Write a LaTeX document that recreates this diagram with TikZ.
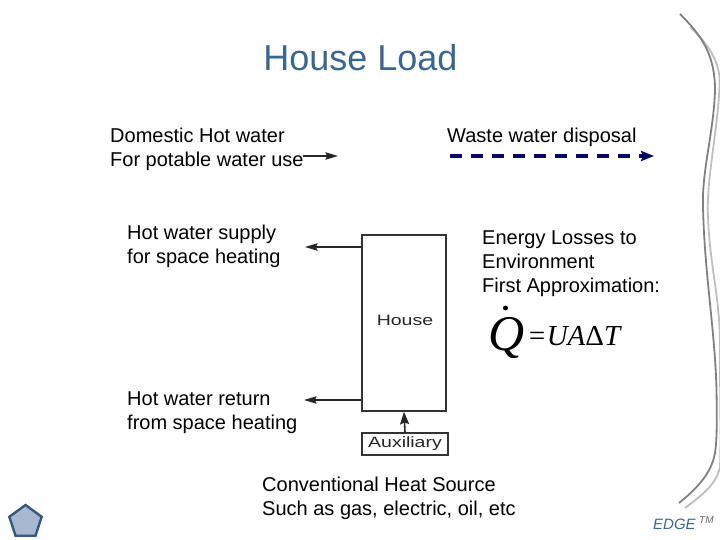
\documentclass[tikz,border=0pt]{standalone}
\usepackage{amsmath,amssymb}
\usepackage{fontspec}
\setmainfont{Liberation Sans}
\newfontfamily\serifface{Liberation Serif}
\usetikzlibrary{positioning,arrows.meta,shapes.geometric}
\definecolor{titleblue}{HTML}{3A6790}
\definecolor{wastenavy}{HTML}{050A66}
\definecolor{penta}{HTML}{A5B8CF}
\definecolor{pentaedge}{HTML}{33597F}
\definecolor{swooshdark}{HTML}{808080}
\definecolor{swooshlight}{HTML}{BEBEBE}
\newcommand{\wideword}[1]{\scalebox{1.3}[1]{#1}}
\begin{document}
\begin{tikzpicture}[x=1pt, y=-1pt,
    txt/.style={anchor=north west, align=left, inner sep=0pt, font=\fontsize{20}{24}\selectfont, text=black},
    box/.style={draw=black!80, line width=1.5pt, fill=white, inner sep=0pt},
    small/.style={font=\fontsize{15}{17}\selectfont, text=black!85, inner sep=0pt},
    fl/.style={-{Stealth[length=4.4mm,width=2.6mm,inset=0.6mm]}, line width=1.4pt, black!85},
    swoosh/.style={line width=1.8pt},
  ]
    \useasboundingbox (0,0) rectangle (720,540);
    \node[anchor=center, inner sep=0pt, font=\fontsize{36}{40}\selectfont, text=titleblue] (title) at (360.5,58) {House Load};
    \node[txt] (dhw) at (110,128) {Domestic Hot water\\For potable water use};
    \node[txt] (waste) at (447,128) {Waste water disposal};
    \node[txt] (supply) at (127,224.5) {Hot water supply\\for space heating};
    \node[txt] (ret) at (127,391.5) {Hot water return\\from space heating};
    \node[txt] (losses) at (482,230.5) {Energy Losses to\\Environment\\First Approximation:};
    \node[txt] (source) at (262,476.5) {Conventional Heat Source\\Such as gas, electric, oil, etc};
    % house and its auxiliary heater
    \node[box, minimum width=84pt, minimum height=176pt] (house) at (404,323) {};
    \node[small] (houselbl) at (405,320) {\wideword{House}};
    \node[box, minimum width=86pt, minimum height=22pt, small] (aux) at (405,444) {\wideword{Auxiliary}};
    % free ends of the arrows
    \coordinate (dhwend) at (338,156);
    \coordinate (dhwstart) at (303,156);
    \coordinate (wstart) at (450,156);
    \coordinate (wend) at (654,156);
    \coordinate (supplyend) at (305,247);
    \coordinate (retend) at (304,400);
    \coordinate (hsupply) at (361,247);
    \coordinate (hret) at (361,400);
    \draw[fl] (dhwstart)--(dhwend);
    \draw[-{Stealth[length=4.6mm,width=3.6mm,inset=0.8mm]}, wastenavy, line width=3.4pt, dash pattern=on 12pt off 9pt] (wstart)--(wend);
    \draw[fl] (hsupply)--(supplyend);
    \draw[fl] (hret)--(retend);
    \draw[-{Stealth[length=4.4mm,width=3.2mm,inset=0.6mm]}, line width=1.6pt, black!85] (aux.north)--(house.south);
    % heat loss equation
    \node[anchor=base west, inner sep=0pt, font=\serifface\itshape\fontsize{29}{34}\selectfont] (eqn) at (527,345) {=UA{\upshape Δ}T};
    \node[anchor=base, inner sep=0pt, font=\serifface\itshape\fontsize{50}{54}\selectfont] (qsym) at (507,350) {Q};
    \node[circle, fill=black, inner sep=0pt, minimum size=5pt] (qdot) at (505.5,308) {};
    % corner marks
    \node[regular polygon, regular polygon sides=5, draw=pentaedge, fill=penta, line width=2.4pt, minimum size=34pt, inner sep=0pt] (penta) at (25.5,522) {};
    \node[anchor=west, inner sep=0pt, font=\itshape\fontsize{15}{18}\selectfont, text=titleblue] (edge) at (653,524) {EDGE};
    \node[anchor=west, inner sep=0pt, font=\itshape\fontsize{10}{10}\selectfont, text=black!60] (tm) at (699,520) {TM};
    \draw[swoosh, swooshlight] (690,27) .. controls (710,45) and (721,65) .. (719.5,85) .. controls (718,130) and (706,180) .. (708,217) .. controls (710,270) and (721,300) .. (720,353) .. controls (720,400) and (721,440) .. (720,467) .. controls (716,485) and (702,495) .. (685,508);
    \draw[swoosh, swooshdark] (680,14) .. controls (702,36) and (715,55) .. (715,90) .. controls (714,130) and (702,170) .. (703,205) .. controls (704,270) and (715,330) .. (716.5,390) .. controls (717,420) and (717,440) .. (715,453) .. controls (711,475) and (695,490) .. (679,503);
  \end{tikzpicture}
\end{document}
